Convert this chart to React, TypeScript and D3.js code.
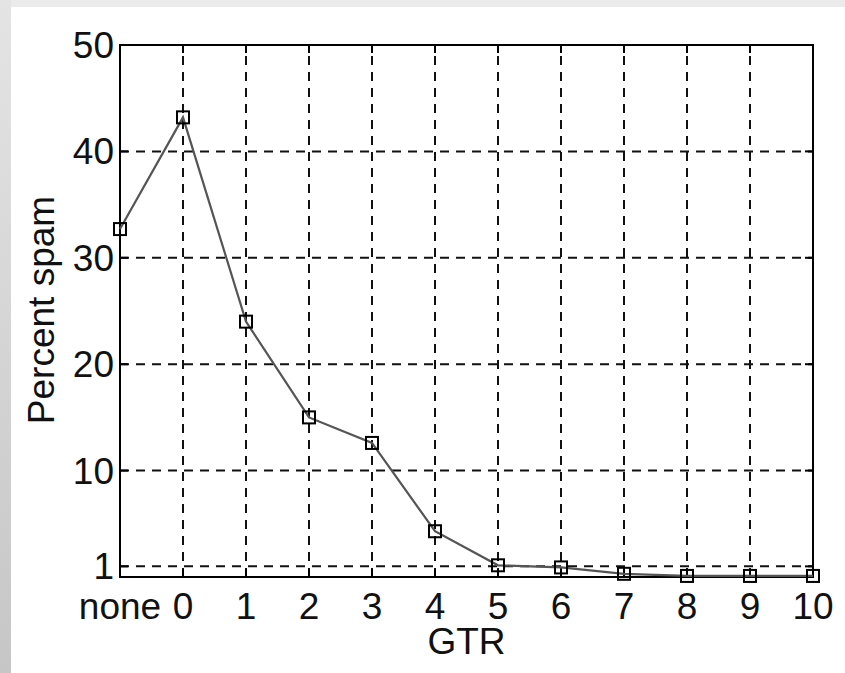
import React, { useEffect, useRef } from "react";
import * as d3 from "d3";

const categories = ["none", "0", "1", "2", "3", "4", "5", "6", "7", "8", "9", "10"];
const spamPercent = [32.7, 43.2, 24.0, 15.0, 12.6, 4.3, 1.1, 0.9, 0.3, 0.1, 0.1, 0.1];
const yTicks = [1, 10, 20, 30, 40, 50];

const W = 845;
const H = 673;
const margin = { top: 45, right: 32, bottom: 96, left: 120 };
const FONT = "'Liberation Sans', Arial, Helvetica, sans-serif";

export default function App() {
  const svgRef = useRef<SVGSVGElement>(null);

  useEffect(() => {
    const svg = d3.select(svgRef.current);
    svg.selectAll("*").remove();

    const x0 = margin.left;
    const x1 = W - margin.right;
    const y0 = H - margin.bottom;
    const y1 = margin.top;

    // grey page edges
    svg.append("rect").attr("x", 0).attr("y", 0).attr("width", W).attr("height", H).attr("fill", "#fff");
    const grad = svg.append("defs").append("linearGradient")
      .attr("id", "edge").attr("x1", 0).attr("y1", 0).attr("x2", 0).attr("y2", 1);
    grad.append("stop").attr("offset", "0%").attr("stop-color", "#e4e4e4");
    grad.append("stop").attr("offset", "100%").attr("stop-color", "#c6c6c6");
    svg.append("rect").attr("x", 0).attr("y", 0).attr("width", W).attr("height", 7).attr("fill", "#ebebeb");
    svg.append("rect").attr("x", 0).attr("y", 0).attr("width", 11).attr("height", H).attr("fill", "url(#edge)");

    const x = d3.scalePoint<string>().domain(categories).range([x0, x1]).padding(0);
    const y = d3.scaleLinear().domain([0, 50]).range([y0, y1]);

    const g = svg.append("g");

    // dashed grid
    g.selectAll(".vgrid")
      .data(categories.slice(1, -1))
      .join("line")
      .attr("x1", (d) => x(d)!).attr("x2", (d) => x(d)!)
      .attr("y1", y0).attr("y2", y1)
      .attr("stroke", "#111").attr("stroke-width", 2).attr("stroke-dasharray", "9,7");
    g.selectAll(".hgrid")
      .data(yTicks.slice(0, -1))
      .join("line")
      .attr("x1", x0).attr("x2", x1)
      .attr("y1", (d) => y(d)).attr("y2", (d) => y(d))
      .attr("stroke", "#111").attr("stroke-width", 2).attr("stroke-dasharray", "9,7");

    // frame
    g.append("rect")
      .attr("x", x0).attr("y", y1).attr("width", x1 - x0).attr("height", y0 - y1)
      .attr("fill", "none").attr("stroke", "#000").attr("stroke-width", 2);

    // ticks
    const tk = 8;
    categories.forEach((c) => {
      g.append("line").attr("x1", x(c)!).attr("x2", x(c)!).attr("y1", y0).attr("y2", y0 - tk).attr("stroke", "#000").attr("stroke-width", 2);
      g.append("line").attr("x1", x(c)!).attr("x2", x(c)!).attr("y1", y1).attr("y2", y1 + tk).attr("stroke", "#000").attr("stroke-width", 2);
    });
    yTicks.forEach((t) => {
      g.append("line").attr("x1", x0).attr("x2", x0 + tk).attr("y1", y(t)).attr("y2", y(t)).attr("stroke", "#000").attr("stroke-width", 2);
      g.append("line").attr("x1", x1).attr("x2", x1 - tk).attr("y1", y(t)).attr("y2", y(t)).attr("stroke", "#000").attr("stroke-width", 2);
    });

    // tick labels
    g.selectAll(".ylab")
      .data(yTicks)
      .join("text")
      .attr("x", x0 - 6).attr("y", (d) => y(d) + 13)
      .attr("text-anchor", "end")
      .attr("font-family", FONT).attr("font-size", 37).attr("fill", "#111")
      .text((d) => d);
    g.selectAll(".xlab")
      .data(categories)
      .join("text")
      .attr("x", (d) => x(d)!).attr("y", 619)
      .attr("text-anchor", "middle")
      .attr("font-family", FONT).attr("font-size", 37).attr("fill", "#111")
      .text((d) => d);

    // axis titles
    g.append("text")
      .attr("x", (x0 + x1) / 2).attr("y", 654)
      .attr("text-anchor", "middle")
      .attr("font-family", FONT).attr("font-size", 37).attr("fill", "#111")
      .text("GTR");
    g.append("text")
      .attr("transform", `translate(54, 310) rotate(-90)`)
      .attr("text-anchor", "middle")
      .attr("font-family", FONT).attr("font-size", 37).attr("fill", "#111")
      .text("Percent spam");

    // data line
    const line = d3.line<number>()
      .x((_, i) => x(categories[i])!)
      .y((d) => y(d));
    g.append("path")
      .datum(spamPercent)
      .attr("d", line)
      .attr("fill", "none").attr("stroke", "#555").attr("stroke-width", 2.2);

    const s = 12;
    g.selectAll(".mark")
      .data(spamPercent)
      .join("rect")
      .attr("x", (_, i) => x(categories[i])! - s / 2)
      .attr("y", (d) => y(d) - s / 2)
      .attr("width", s).attr("height", s)
      .attr("fill", "none").attr("stroke", "#000").attr("stroke-width", 2);
  }, []);

  return (
    <div style={{ position: "absolute", left: 0, top: 0 }}>
      <svg ref={svgRef} width={W} height={H} style={{ display: "block" }} />
    </div>
  );
}
